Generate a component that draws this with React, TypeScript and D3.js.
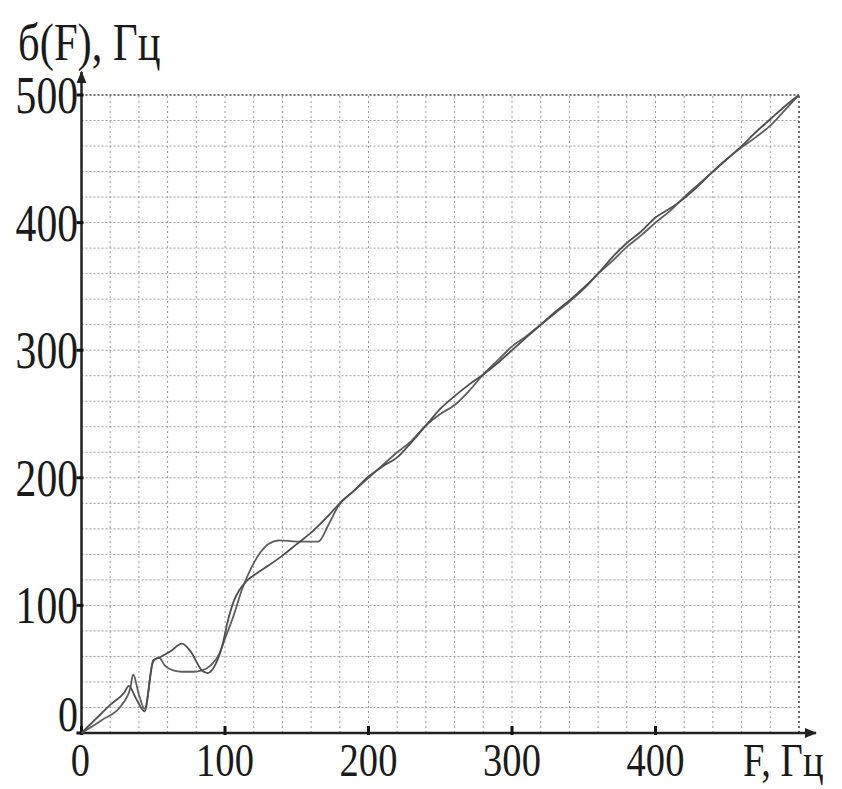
import React from "react";
import * as d3 from "d3";

// Frequency grid points (Hz) and the two estimated responses б(F)
const measuredF = [0, 10, 20, 30, 33, 38, 44, 50, 54, 62, 70, 76, 84, 88, 93, 98, 102, 106, 110, 115, 122, 130, 140, 150, 160, 170, 180, 190, 200, 210, 220, 230, 240, 250, 260, 270, 280, 290, 300, 310, 320, 330, 340, 350, 360, 370, 380, 390, 400, 410, 420, 430, 440, 450, 460, 470, 480, 490, 500];
const measuredB = [0, 11, 22, 32, 37, 27, 17, 57, 59, 64, 70, 64, 49, 47, 53, 68, 88, 103, 112, 119, 125, 131, 139, 148, 157, 168, 180, 190, 201, 209, 216, 228, 241, 254, 264, 273, 281, 290, 300, 310, 320, 330, 339, 349, 360, 373, 384, 393, 404, 411, 419, 429, 440, 450, 460, 471, 481, 491, 500];

const smoothF = [0, 14, 28, 34, 36, 40, 44, 50, 54, 58, 64, 70, 78, 84, 90, 96, 100, 106, 112, 119, 125, 130, 138, 150, 165, 172, 179, 190, 200, 210, 220, 230, 240, 250, 260, 270, 280, 290, 300, 310, 320, 330, 340, 350, 360, 370, 380, 390, 400, 410, 420, 430, 440, 450, 460, 470, 480, 490, 500];
const smoothB = [0, 10, 22, 35, 46, 30, 19, 56, 59, 53, 49, 48, 48, 49, 53, 62, 74, 92, 113, 131, 142, 148, 151, 150, 150, 163, 178, 190, 200, 210, 220, 229, 241, 250, 257, 268, 281, 292, 303, 311, 320, 329, 338, 348, 360, 370, 381, 390, 400, 409, 420, 430, 440, 450, 459, 467, 476, 488, 500];

const xTickLabels = ["0", "100", "200", "300", "400"];
const yTickLabels = ["0", "100", "200", "300", "400", "500"];
const gridStep = 20;

const W = 842;
const H = 789;
const x0 = 81.5, x1 = 799, y0 = 733, y1 = 95;

const font = '"Liberation Serif", "Times New Roman", serif';

export default function App() {
  const x = d3.scaleLinear().domain([0, 500]).range([x0, x1]);
  const y = d3.scaleLinear().domain([0, 500]).range([y0, y1]);

  const gridVals = d3.range(gridStep, 500 + 0.1, gridStep);

  const line = d3
    .line<[number, number]>()
    .x((d) => x(d[0]))
    .y((d) => y(d[1]))
    .curve(d3.curveMonotoneX);

  const measured = measuredF.map((f, i) => [f, measuredB[i]] as [number, number]);
  const smooth = smoothF.map((f, i) => [f, smoothB[i]] as [number, number]);

  const textStyle = { fontFamily: font, fill: "#1a1a1a" };

  return (
    <svg width={W} height={H} style={{ position: "absolute", left: 0, top: 0, background: "#fff" }}>
      <defs>
        <marker id="arr" viewBox="0 0 10 10" refX="9" refY="5" markerWidth="5" markerHeight="5" orient="auto">
          <path d="M0,1 L10,5 L0,9 z" fill="#222" />
        </marker>
      </defs>

      {/* grid */}
      <g>
        {gridVals.map((v) => (
          <line key={"gx" + v} x1={x(v)} x2={x(v)} y1={y(0)} y2={y(500)} stroke={v === 500 ? "#444" : "#9a9a9a"} strokeWidth={v === 500 ? 1.6 : 1} strokeDasharray="2,3" />
        ))}
        {gridVals.map((v) => (
          <line key={"gy" + v} x1={x(0)} x2={x(500)} y1={y(v)} y2={y(v)} stroke={v === 500 ? "#444" : "#9a9a9a"} strokeWidth={v === 500 ? 1.6 : 1} strokeDasharray="2,2" />
        ))}
      </g>

      {/* axes */}
      <line x1={x(0)} x2={816} y1={y(0)} y2={y(0)} stroke="#222" strokeWidth={2.5} markerEnd="url(#arr)" />
      <line x1={x(0)} x2={x(0)} y1={y(0)} y2={72} stroke="#222" strokeWidth={2.5} markerEnd="url(#arr)" />

      {/* ticks */}
      {xTickLabels.map((t) => (
        <line key={"tx" + t} x1={x(+t)} x2={x(+t)} y1={y(0) - 7} y2={y(0) + 2} stroke="#111" strokeWidth={3} />
      ))}
      {yTickLabels.map((t) => (
        <line key={"ty" + t} x1={x(0) - 5} x2={x(0) + 2} y1={y(+t)} y2={y(+t)} stroke="#111" strokeWidth={3} />
      ))}

      {/* curves */}
      <path d={line(smooth) || ""} fill="none" stroke="#5e5e5e" strokeWidth={1.8} />
      <path d={line(measured) || ""} fill="none" stroke="#4e4e4e" strokeWidth={1.8} />

      {/* tick labels */}
      {xTickLabels.map((t) => (
        <text key={"lx" + t} transform={`translate(${x(+t) - (t === "0" ? 1 : 0)},776) scale(0.82,1)`} textAnchor="middle" fontSize={47} style={textStyle}>
          {t}
        </text>
      ))}
      {yTickLabels.map((t) => (
        <text key={"ly" + t} transform={`translate(78,${t === "0" ? 731 : y(+t) + 18}) scale(0.8,1)`} textAnchor="end" fontSize={t === "0" ? 50 : 52} style={textStyle}>
          {t}
        </text>
      ))}

      {/* axis titles */}
      <text transform="translate(18,60) scale(0.82,1)" fontSize={52} style={textStyle}>
        б(F), Гц
      </text>
      <text transform="translate(743,776) scale(0.82,1)" fontSize={47} style={textStyle}>
        F, Гц
      </text>
    </svg>
  );
}
